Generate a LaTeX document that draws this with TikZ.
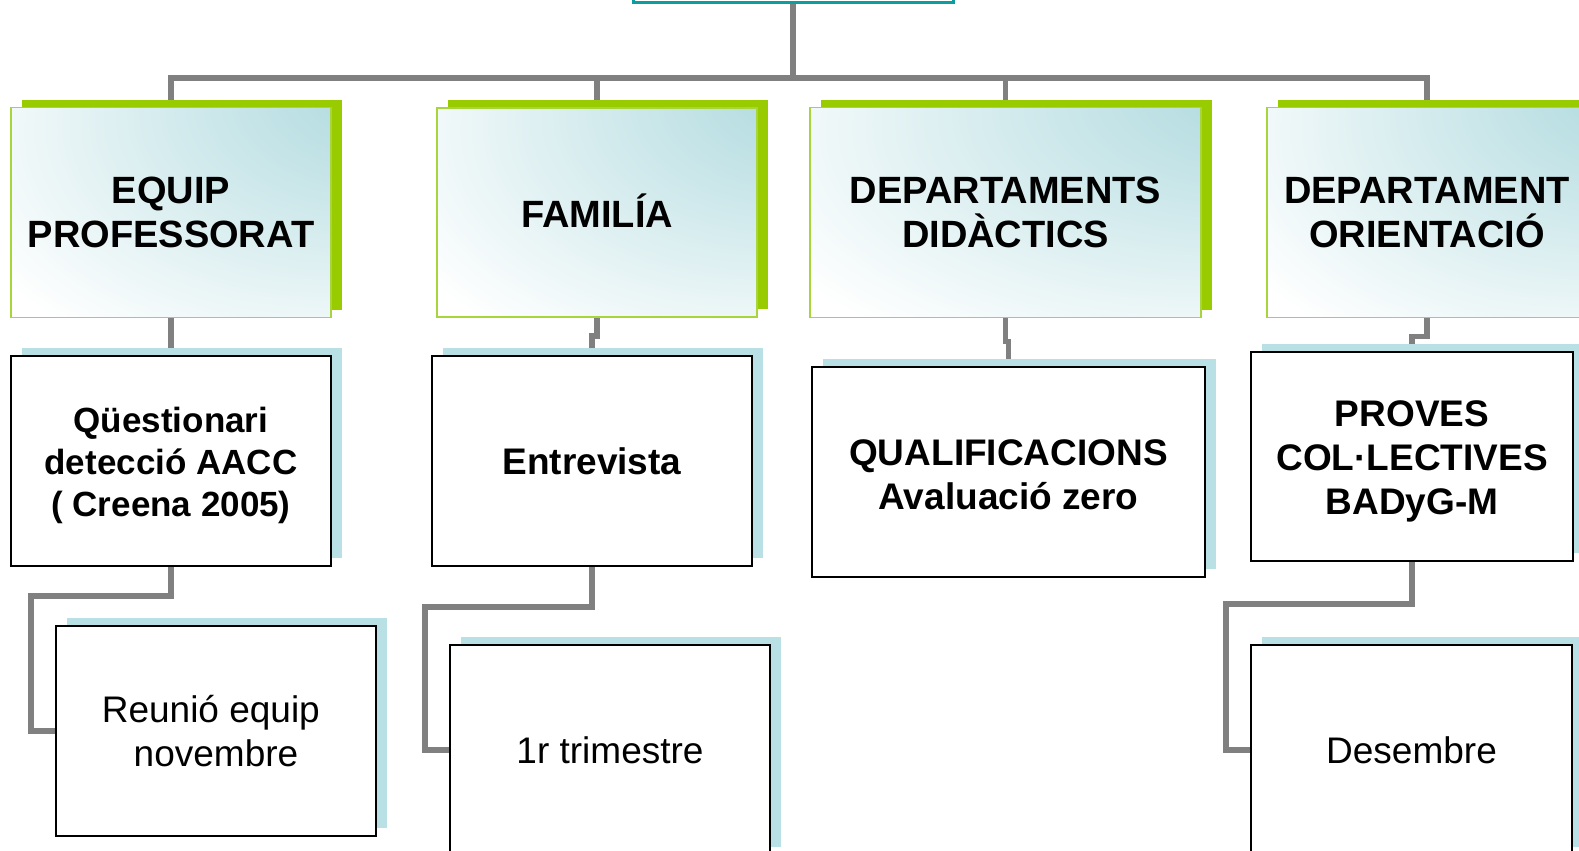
\documentclass[tikz,border=0pt]{standalone}
\usepackage{fontspec}
\setmainfont{Liberation Sans}
\usetikzlibrary{shadows,backgrounds}
\definecolor{hdrgreen}{HTML}{99CC00}
\definecolor{hdrline}{HTML}{A8D43C}
\definecolor{hdrteal}{HTML}{B8DEE2}
\definecolor{boxblue}{HTML}{B9E0E4}
\definecolor{linkgray}{HTML}{808080}
\definecolor{topteal}{HTML}{0E9C9C}
\pgfdeclareradialshading{hdrshade}{\pgfpoint{40bp}{35bp}}{color(0bp)=(hdrteal); color(12bp)=(hdrteal); color(55bp)=(white); color(100bp)=(white)}
\tikzset{
  rootbox/.style={draw=topteal, line width=3pt, fill=white, minimum width=320pt, minimum height=54pt},
  header/.style={draw=hdrline, line width=1.6pt, shade, shading=hdrshade, minimum width=320pt, minimum height=210pt,
    align=center, font=\fontsize{38}{44}\selectfont\bfseries,
    general shadow={fill=hdrgreen, shadow xshift=11pt, shadow yshift=8pt}},
  taskbox/.style={draw=black, line width=2pt, fill=white, minimum width=320pt, minimum height=210pt,
    align=center, font=\fontsize{37}{44}\selectfont\bfseries,
    general shadow={fill=boxblue, shadow xshift=11pt, shadow yshift=8pt}},
  datebox/.style={taskbox, font=\fontsize{37}{44}\selectfont},
  link/.style={draw=linkgray, line width=5.5pt}
}

\begin{document}
\begin{tikzpicture}[x=1pt, y=-1pt]
\useasboundingbox (0,0) rectangle (1579,851);
\node[rootbox] (top) at (793,-24) {};
\coordinate (bus) at (793,78);
\node[header] (h1) at (171,212.5) {EQUIP\\PROFESSORAT};
\node[header, minimum height=209pt] (h2) at (597,212.5) {FAMILÍA\rule[-4pt]{0pt}{4pt}};
\node[header, minimum width=391pt] (h3) at (1005.5,212.5) {DEPARTAMENTS\\DIDÀCTICS};
\node[header] (h4) at (1427,212.5) {DEPARTAMENT\\ORIENTACIÓ};
\node[taskbox, font=\fontsize{35}{42}\selectfont\bfseries] (q1) at (171,461) {\rule{0pt}{35pt}Qüestionari\\detecció AACC\\( Creena 2005)};
\node[taskbox] (q2) at (592,461) {Entrevista};
\node[taskbox, minimum width=393pt] (q3) at (1008.5,472) {\rule{0pt}{31pt}QUALIFICACIONS\\Avaluació zero};
\node[taskbox, minimum width=322pt, minimum height=209pt] (q4) at (1412,456.5) {\rule{0pt}{36pt}PROVES\\COL·LECTIVES\\BADyG-M};
\node[datebox] (r1) at (216,731) {Reunió equip\hspace*{0.278em}\\novembre};
\node[datebox] (r2) at (610,750) {1r trimestre};
\node[datebox, minimum width=321pt] (r4) at (1411.5,750) {Desembre};
\begin{scope}[on background layer]
\draw[link] (top.south) -- (bus);
\draw[link] (h1.north) -- (h1.north |- bus) -- (h4.north |- bus) -- (h4.north);
\draw[link] (h2.north) -- (h2.north |- bus);
\draw[link] (h3.north) -- (h3.north |- bus);
\draw[link] (h1.south) -- (q1.north);
\draw[link] (h2.south) -- ++(0,18) -| (q2.north);
\draw[link] (h3.south) -- ++(0,23) -| (q3.north);
\draw[link] (h4.south) -- ++(0,18) -| (q4.north);
\draw[link] (q1.south) -- ++(0,29) -| ([xshift=-24pt]r1.west) -- (r1.west);
\draw[link] (q2.south) -- ++(0,40) -| ([xshift=-24pt]r2.west) -- (r2.west);
\draw[link] (q4.south) -- ++(0,42) -| ([xshift=-24pt]r4.west) -- (r4.west);
\end{scope}
\end{tikzpicture}
\end{document}
